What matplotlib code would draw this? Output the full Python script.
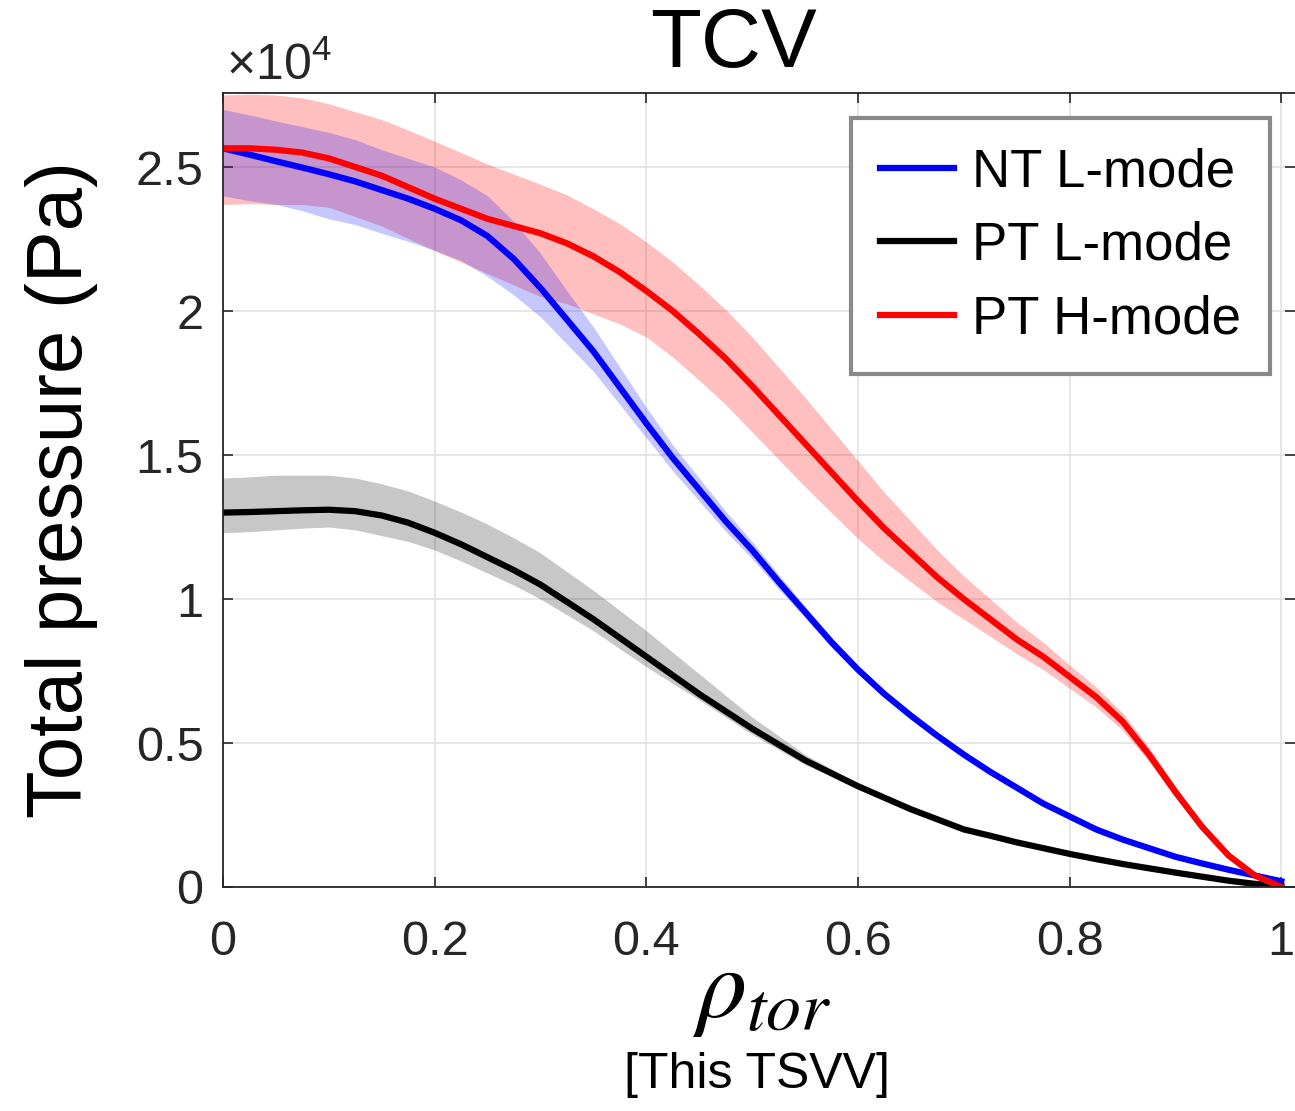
import numpy as np
import matplotlib
matplotlib.use('Agg')
import matplotlib.pyplot as plt

plt.rcParams['font.family'] = ['Liberation Sans', 'DejaVu Sans']
plt.rcParams['mathtext.fontset'] = 'custom'
plt.rcParams['mathtext.rm'] = 'Liberation Sans'
plt.rcParams['mathtext.it'] = 'Liberation Sans:italic'

# pressure in units of 1e4 Pa
rho = [0.0, 0.025, 0.05, 0.075, 0.1, 0.125, 0.15, 0.175, 0.2, 0.225,
       0.25, 0.275, 0.3, 0.325, 0.35, 0.375, 0.4, 0.425, 0.45, 0.475,
       0.5, 0.525, 0.55, 0.575, 0.6, 0.625, 0.65, 0.675, 0.7, 0.725,
       0.75, 0.775, 0.8, 0.825, 0.85, 0.875, 0.9, 0.925, 0.95, 0.975, 1.0]

nt_l = [2.565, 2.543, 2.52, 2.498, 2.475, 2.45, 2.42, 2.39, 2.355, 2.315,
        2.26, 2.18, 2.08, 1.97, 1.86, 1.735, 1.61, 1.49, 1.38, 1.27,
        1.17, 1.06, 0.955, 0.85, 0.755, 0.67, 0.595, 0.525, 0.46, 0.40,
        0.345, 0.29, 0.245, 0.20, 0.165, 0.135, 0.105, 0.082, 0.06, 0.04, 0.02]
nt_l_up = [0.135, 0.138, 0.14, 0.142, 0.145, 0.145, 0.14, 0.14, 0.145, 0.14,
           0.14, 0.13, 0.12, 0.10, 0.085, 0.07, 0.055, 0.045, 0.04, 0.035,
           0.03, 0.025, 0.02, 0.018, 0.015, 0.012, 0.01, 0.01, 0.008, 0.008,
           0.006, 0.006, 0.005, 0.005, 0.004, 0.004, 0.003, 0.003, 0.002, 0.001, 0.0]
nt_l_dn = [0.165, 0.16, 0.15, 0.15, 0.155, 0.15, 0.15, 0.148, 0.145, 0.14,
           0.14, 0.125, 0.10, 0.085, 0.07, 0.06, 0.05, 0.045, 0.04, 0.035,
           0.03, 0.025, 0.02, 0.018, 0.015, 0.012, 0.01, 0.01, 0.008, 0.008,
           0.006, 0.006, 0.005, 0.005, 0.004, 0.004, 0.003, 0.003, 0.002, 0.001, 0.0]

pt_l = [1.30, 1.302, 1.305, 1.308, 1.31, 1.305, 1.29, 1.265, 1.23, 1.19,
        1.145, 1.10, 1.05, 0.99, 0.93, 0.865, 0.80, 0.735, 0.67, 0.61,
        0.55, 0.495, 0.44, 0.395, 0.35, 0.31, 0.27, 0.235, 0.20, 0.178,
        0.155, 0.135, 0.115, 0.097, 0.08, 0.065, 0.05, 0.036, 0.022, 0.011, 0.003]
pt_l_up = [0.12, 0.122, 0.125, 0.122, 0.12, 0.115, 0.11, 0.11, 0.11, 0.112,
           0.115, 0.112, 0.11, 0.105, 0.10, 0.095, 0.09, 0.08, 0.07, 0.055,
           0.04, 0.03, 0.02, 0.015, 0.01, 0.008, 0.006, 0.005, 0.005, 0.004,
           0.004, 0.003, 0.003, 0.003, 0.002, 0.002, 0.002, 0.001, 0.001, 0.0, 0.0]
pt_l_dn = [0.07, 0.068, 0.065, 0.062, 0.06, 0.065, 0.07, 0.065, 0.06, 0.058,
           0.055, 0.052, 0.05, 0.045, 0.04, 0.038, 0.035, 0.028, 0.02, 0.02,
           0.02, 0.018, 0.015, 0.012, 0.01, 0.008, 0.006, 0.005, 0.005, 0.004,
           0.004, 0.003, 0.003, 0.003, 0.002, 0.002, 0.002, 0.001, 0.001, 0.0, 0.0]

pt_h = [2.565, 2.565, 2.56, 2.55, 2.53, 2.50, 2.47, 2.43, 2.39, 2.355,
        2.32, 2.295, 2.27, 2.235, 2.19, 2.135, 2.07, 2.00, 1.92, 1.835,
        1.74, 1.64, 1.54, 1.44, 1.34, 1.245, 1.16, 1.075, 1.00, 0.93,
        0.86, 0.80, 0.73, 0.66, 0.575, 0.46, 0.33, 0.21, 0.11, 0.04, 0.0]
pt_h_up = [0.185, 0.188, 0.19, 0.19, 0.19, 0.192, 0.195, 0.198, 0.20, 0.195,
           0.19, 0.18, 0.17, 0.168, 0.165, 0.168, 0.17, 0.17, 0.17, 0.17,
           0.17, 0.165, 0.16, 0.15, 0.14, 0.125, 0.11, 0.095, 0.08, 0.07,
           0.06, 0.05, 0.04, 0.035, 0.03, 0.025, 0.02, 0.015, 0.01, 0.005, 0.0]
pt_h_dn = [0.195, 0.192, 0.19, 0.18, 0.17, 0.172, 0.175, 0.178, 0.18, 0.185,
           0.19, 0.205, 0.22, 0.21, 0.20, 0.18, 0.16, 0.16, 0.16, 0.16,
           0.16, 0.155, 0.15, 0.14, 0.13, 0.115, 0.10, 0.085, 0.07, 0.06,
           0.05, 0.045, 0.04, 0.035, 0.03, 0.025, 0.02, 0.015, 0.01, 0.005, 0.0]

labels = ['NT L-mode', 'PT L-mode', 'PT H-mode']

fig = plt.figure(figsize=(12.95, 11.11), dpi=100)
ax = fig.add_axes([223/1295, 224/1111, 1072/1295, 794/1111])

r = np.array(rho)
ax.fill_between(r, np.array(pt_h) - pt_h_dn, np.array(pt_h) + pt_h_up,
                color='#ff0000', alpha=0.25, lw=0)
ax.fill_between(r, np.array(nt_l) - nt_l_dn, np.array(nt_l) + nt_l_up,
                color='#0000ff', alpha=0.22, lw=0)
ax.fill_between(r, np.array(pt_l) - pt_l_dn, np.array(pt_l) + pt_l_up,
                color='#000000', alpha=0.22, lw=0)
ax.plot(r, nt_l, color='#0000ff', lw=4.5, label=labels[0])
ax.plot(r, pt_l, color='#000000', lw=4.5, label=labels[1])
ax.plot(r, pt_h, color='#ff0000', lw=4.5, label=labels[2])

ax.set_xlim(0, 1.013)
ax.set_ylim(0, 2.757)
ax.set_xticks([0, 0.2, 0.4, 0.6, 0.8, 1])
ax.set_xticklabels(['0', '0.2', '0.4', '0.6', '0.8', '1'])
ax.set_yticks([0, 0.5, 1, 1.5, 2, 2.5])
ax.set_yticklabels(['0', '0.5', '1', '1.5', '2', '2.5'])
ax.grid(True, color='#e3e3e3', lw=1.2)
ax.set_axisbelow(True)
ax.tick_params(direction='in', length=7, width=1.2, color='#262626',
               labelsize=35, labelcolor='#262626', top=True, right=True)
ax.tick_params(axis='x', pad=24)
ax.tick_params(axis='y', pad=14)
for s in ax.spines.values():
    s.set_color('#262626')
    s.set_linewidth(1.3)
ax.spines['right'].set_visible(False)

ax.set_ylabel('Total pressure (Pa)', fontsize=56, labelpad=27)
fig.text(226/1295, 1 - 80/1111, r'$\times10^{4}$', fontsize=36,
         color='#262626', ha='left', va='baseline')
fig.text(733/1295, 1 - 45/1111, 'TCV', fontsize=60, ha='center', va='center')
fig.text(762/1295, 1 - 992/1111, r'$\rho_{tor}$', fontsize=72, ha='center',
         va='center', math_fontfamily='stix')
fig.text(757/1295, 1 - 1075/1111, '[This TSVV]', fontsize=36, ha='center', va='center')

leg = ax.legend(loc='upper right', bbox_to_anchor=(1270/1295, 1 - 118/1111),
                bbox_transform=fig.transFigure, fontsize=38, handlelength=1.4,
                handletextpad=0.35, labelspacing=0.45, borderpad=0.55,
                borderaxespad=0, fancybox=False, framealpha=1)
leg.get_frame().set_edgecolor('#8a8a8a')
leg.get_frame().set_linewidth(3)

fig.savefig('out.png', dpi=100)
